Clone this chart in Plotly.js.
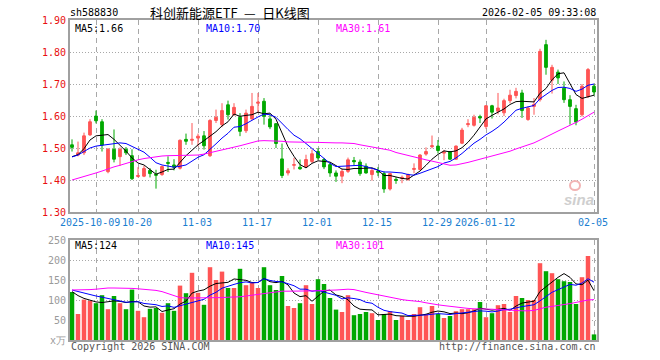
<!DOCTYPE html>
<html><head><meta charset="utf-8">
<script src="https://cdn.plot.ly/plotly-3.0.1.min.js"></script>
<style>html,body{margin:0;padding:0;background:#fff;}#chart{width:660px;height:360px;}</style>
</head><body><div id="chart"></div>
<script>
const dates = ["2025-09-25","2025-09-26","2025-09-29","2025-09-30","2025-10-09","2025-10-10","2025-10-13","2025-10-14","2025-10-15","2025-10-16",
"2025-10-17","2025-10-20","2025-10-21","2025-10-22","2025-10-23","2025-10-24","2025-10-27","2025-10-28","2025-10-29","2025-10-30",
"2025-10-31","2025-11-03","2025-11-04","2025-11-05","2025-11-06","2025-11-07","2025-11-10","2025-11-11","2025-11-12","2025-11-13",
"2025-11-14","2025-11-17","2025-11-18","2025-11-19","2025-11-20","2025-11-21","2025-11-24","2025-11-25","2025-11-26","2025-11-27",
"2025-11-28","2025-12-01","2025-12-02","2025-12-03","2025-12-04","2025-12-05","2025-12-08","2025-12-09","2025-12-10","2025-12-11",
"2025-12-12","2025-12-15","2025-12-16","2025-12-17","2025-12-18","2025-12-19","2025-12-22","2025-12-23","2025-12-24","2025-12-25",
"2025-12-26","2025-12-29","2025-12-30","2025-12-31","2026-01-05","2026-01-06","2026-01-07","2026-01-08","2026-01-09","2026-01-12",
"2026-01-13","2026-01-14","2026-01-15","2026-01-16","2026-01-19","2026-01-20","2026-01-21","2026-01-22","2026-01-23","2026-01-26",
"2026-01-27","2026-01-28","2026-01-29","2026-01-30","2026-02-02","2026-02-03","2026-02-04","2026-02-05"];

const open = [1.510,1.478,1.485,1.541,1.600,1.582,1.426,1.496,1.473,1.496,
1.476,1.411,1.412,1.430,1.418,1.417,1.455,1.447,1.437,1.527,
1.524,1.531,1.538,1.476,1.586,1.573,1.635,1.604,1.596,1.554,
1.591,1.640,1.646,1.591,1.576,1.466,1.422,1.446,1.440,1.441,
1.458,1.489,1.464,1.448,1.422,1.412,1.427,1.461,1.456,1.443,
1.417,1.428,1.420,1.372,1.402,1.405,1.401,1.433,1.433,1.481,
1.504,1.506,1.484,1.489,1.465,1.515,1.573,1.571,1.598,1.567,
1.632,1.615,1.610,1.648,1.664,1.672,1.589,1.630,1.651,1.823,
1.712,1.737,1.687,1.651,1.623,1.604,1.661,1.693];
const high = [1.527,1.520,1.548,1.590,1.617,1.590,1.500,1.558,1.502,1.503,
1.496,1.440,1.444,1.437,1.432,1.445,1.474,1.465,1.527,1.545,
1.578,1.545,1.553,1.590,1.620,1.640,1.648,1.640,1.609,1.620,
1.672,1.672,1.656,1.604,1.578,1.514,1.437,1.469,1.464,1.479,
1.495,1.500,1.469,1.453,1.430,1.435,1.470,1.472,1.464,1.452,
1.437,1.440,1.427,1.422,1.409,1.414,1.420,1.452,1.481,1.502,
1.539,1.525,1.494,1.490,1.508,1.563,1.590,1.604,1.604,1.634,
1.635,1.672,1.654,1.682,1.688,1.682,1.630,1.656,1.810,1.838,
1.760,1.745,1.708,1.665,1.635,1.700,1.750,1.700];
const low = [1.489,1.474,1.478,1.538,1.577,1.489,1.421,1.455,1.444,1.478,
1.400,1.408,1.409,1.408,1.373,1.413,1.425,1.430,1.433,1.510,
1.510,1.505,1.495,1.472,1.578,1.565,1.589,1.600,1.537,1.547,
1.588,1.609,1.573,1.559,1.500,1.406,1.414,1.433,1.432,1.437,
1.453,1.463,1.434,1.410,1.394,1.390,1.422,1.446,1.413,1.420,
1.398,1.412,1.360,1.367,1.388,1.390,1.398,1.421,1.430,1.476,
1.499,1.483,1.462,1.463,1.463,1.512,1.565,1.567,1.578,1.560,
1.592,1.605,1.600,1.640,1.655,1.594,1.585,1.604,1.645,1.729,
1.670,1.700,1.641,1.573,1.571,1.598,1.656,1.664];
const close = [1.502,1.485,1.538,1.582,1.585,1.509,1.496,1.465,1.496,1.485,
1.404,1.414,1.436,1.420,1.415,1.442,1.452,1.440,1.524,1.521,
1.527,1.537,1.507,1.586,1.596,1.617,1.604,1.627,1.552,1.609,
1.630,1.643,1.599,1.566,1.514,1.414,1.429,1.448,1.435,1.464,
1.482,1.469,1.441,1.422,1.412,1.427,1.463,1.457,1.420,1.422,
1.430,1.424,1.372,1.420,1.399,1.408,1.417,1.436,1.478,1.489,
1.507,1.492,1.487,1.465,1.506,1.556,1.576,1.596,1.594,1.632,
1.612,1.625,1.648,1.665,1.677,1.617,1.625,1.636,1.802,1.752,
1.752,1.719,1.651,1.630,1.581,1.693,1.745,1.675];

const ma5 = [1.473,1.479,1.498,1.525,1.538,1.540,1.542,1.527,1.510,1.490,
1.469,1.453,1.447,1.432,1.418,1.425,1.433,1.434,1.455,1.476,
1.493,1.510,1.523,1.536,1.551,1.569,1.582,1.606,1.599,1.602,
1.604,1.612,1.607,1.609,1.590,1.547,1.504,1.474,1.448,1.438,
1.452,1.460,1.458,1.456,1.445,1.434,1.433,1.436,1.436,1.438,
1.438,1.431,1.414,1.414,1.409,1.405,1.403,1.416,1.428,1.446,
1.465,1.480,1.491,1.488,1.491,1.501,1.518,1.540,1.566,1.591,
1.602,1.612,1.622,1.636,1.645,1.646,1.646,1.644,1.671,1.686,
1.713,1.732,1.735,1.701,1.667,1.655,1.660,1.665];
const ma10 = [1.472,1.478,1.489,1.500,1.506,1.509,1.511,1.514,1.516,
1.514,1.505,1.497,1.487,1.471,1.454,1.447,1.443,1.440,1.443,
1.447,1.459,1.471,1.479,1.495,1.513,1.531,1.546,1.565,1.567,
1.576,1.587,1.597,1.606,1.604,1.596,1.576,1.558,1.540,1.529,
1.514,1.499,1.482,1.466,1.452,1.442,1.443,1.446,1.447,1.446,
1.442,1.436,1.432,1.425,1.425,1.423,1.422,1.417,1.415,1.421,
1.427,1.435,1.442,1.453,1.458,1.469,1.483,1.499,1.515,1.527,
1.541,1.552,1.565,1.581,1.601,1.618,1.624,1.629,1.633,1.654,
1.666,1.680,1.689,1.690,1.686,1.677,1.684,1.696,1.700];
const ma30 = [1.400,1.405,1.410,1.416,1.422,1.428,1.435,1.441,1.446,1.452,
1.458,1.463,1.467,1.470,1.472,1.475,1.476,1.476,1.476,1.476,
1.477,1.478,1.481,1.485,1.489,1.493,1.497,1.502,1.507,1.512,
1.518,1.522,1.523,1.523,1.523,1.521,1.519,1.518,1.518,1.518,
1.518,1.517,1.517,1.516,1.516,1.516,1.515,1.514,1.510,1.507,
1.504,1.501,1.497,1.493,1.486,1.481,1.477,1.473,1.468,1.463,
1.459,1.455,1.450,1.446,1.447,1.450,1.455,1.460,1.465,1.470,
1.474,1.479,1.484,1.490,1.497,1.503,1.509,1.516,1.525,1.535,
1.545,1.553,1.562,1.570,1.580,1.590,1.601,1.612];

const volume = [120,65,101,98,92,112,77,110,92,77,
126,73,57,78,80,68,92,73,136,117,
168,118,88,182,150,171,130,130,178,137,
143,130,182,137,125,160,85,80,92,137,
90,152,140,105,76,70,112,62,65,70,
67,50,65,72,50,60,50,65,82,65,
85,65,55,60,72,77,77,77,95,57,
67,87,90,70,110,105,100,100,192,172,
167,152,147,145,90,157,210,14];
const vma5 = [121,111,104,99,95.2,93.6,96,97.8,96.6,93.6,
96.4,95.6,85,82.2,82.8,71.2,75,78.2,89.8,97.2,
117.2,122.4,125.4,134.6,141.2,141.8,144.2,152.6,151.8,149.2,
143.6,143.6,154,145.8,143.4,146.8,137.8,117.4,108.4,110.8,
96.8,110.2,122.2,124.8,112.6,108.6,100.6,85,77,75.8,
75.2,62.8,63.4,64.8,60.8,59.4,59.4,59.4,61.4,64.4,
69.4,72.4,70.4,66,67.4,65.8,68.2,72.6,79.6,76.6,
74.6,76.6,79.2,74.2,84.8,92.4,95,97,121.4,133.8,
146.2,156.6,166,156.6,140.2,138.2,149.8,123.2];
const vma10 = [125,121,117,113,110,107,104,101,98,
94.4,95,95.8,91.4,89.4,88.2,83.8,85.3,81.6,86,
90,94.2,98.7,101.8,112.2,119.2,129.5,133.3,139,143.2,
145.2,142.7,143.9,153.3,148.8,146.3,145.2,140.7,135.7,127.1,
127.1,121.8,124,119.8,116.6,111.7,102.7,105.4,103.6,100.9,
94.2,91.9,81.7,74.2,70.9,68.3,67.3,61.1,61.4,63.1,
62.6,64.4,65.9,64.9,63.7,65.9,67.6,70.3,71.5,72.8,
72,70.2,72.4,75.9,76.9,80.7,83.5,85.8,88.1,97.8,
109.3,119.3,125.8,131.5,139,137,142.2,153.2,144.6];
const vma30 = [125,125,125,126,127,129,130,130,130,130,
129,128,127,126,124,121,116,110,106,105,
105,105,105,105,106,106,107,107,108,110,
112,114,117,119,121,122,122,122,122,122,
123,123,124,124,125,126,127,126,122,119,
116,113,110,106,103,101,99,98,96,93,
90,88,86,84,82,80,79,78,78,77,
77,76,75,74,73,73,73,74,78,82,
84,86,88,91,94,97,100,101];

const tickDates = ["2025-10-09","2025-10-20","2025-11-03","2025-11-17","2025-12-01","2025-12-15","2025-12-29","2026-01-12","2026-02-05"];
const tickLabels = ["2025-10-09","10-20","11-03","11-17","12-01","12-15","12-29","2026-01-12","02-05"];
const priceTicks = [1.30,1.40,1.50,1.60,1.70,1.80,1.90];
const volTicks = [0,50,100,150,200,250];
const volTickLabels = ["x万","50","100","150","200","250"];

const UP = '#ff5555', DOWN = '#00a800';
const MONO = 'DejaVu Sans Mono, Liberation Mono, monospace';
const volColors = close.map((c,i)=> c >= open[i] ? UP : DOWN);

const traces = [
  {type:'candlestick', x:dates, open:open, high:high, low:low, close:close, xaxis:'x', yaxis:'y',
   increasing:{line:{color:UP,width:1}, fillcolor:UP},
   decreasing:{line:{color:DOWN,width:1}, fillcolor:DOWN},
   whiskerwidth:0, hoverinfo:'skip'},
  {type:'scatter', mode:'lines', x:dates, y:ma5, xaxis:'x', yaxis:'y', line:{color:'#000000', width:1}, hoverinfo:'skip'},
  {type:'scatter', mode:'lines', x:dates, y:ma10, xaxis:'x', yaxis:'y', line:{color:'#0000ff', width:1}, hoverinfo:'skip'},
  {type:'scatter', mode:'lines', x:dates, y:ma30, xaxis:'x', yaxis:'y', line:{color:'#ff00ff', width:1}, hoverinfo:'skip'},
  {type:'bar', x:dates, y:volume, xaxis:'x2', yaxis:'y2', marker:{color:volColors, line:{width:0}}, hoverinfo:'skip'},
  {type:'scatter', mode:'lines', x:dates, y:vma5, xaxis:'x2', yaxis:'y2', line:{color:'#000000', width:1}, hoverinfo:'skip'},
  {type:'scatter', mode:'lines', x:dates, y:vma10, xaxis:'x2', yaxis:'y2', line:{color:'#0000ff', width:1}, hoverinfo:'skip'},
  {type:'scatter', mode:'lines', x:dates, y:vma30, xaxis:'x2', yaxis:'y2', line:{color:'#ff00ff', width:1}, hoverinfo:'skip'}
];

const L = 70, R = 597, T = 20, B = 340;
const xp = px => (px - L) / (R - L);
const yp = py => (B - py) / (B - T);
function ann(text, px, py, anchor, color, size, family){
  return {text:text, x:xp(px), y:yp(py), xref:'paper', yref:'paper', xanchor:anchor, yanchor:'middle',
          showarrow:false, font:{family:family||MONO, size:size||10, color:color||'#000'}, borderpad:0};
}

// date labels under the price panel, centred on the dashed grid lines;
// the first one is right-aligned so that it just meets "10-20", as in the original
const dateAnns = tickDates.map((d,k)=>({
  text:tickLabels[k], x:d, xref:'x', y:yp(222), yref:'paper',
  xanchor: k===0 ? 'right' : 'center', xshift: k===0 ? 25 : -1,
  yanchor:'middle', showarrow:false, borderpad:0,
  font:{family:MONO, size:10, color:'#1a7ed0'}
}));

const gridX = {showgrid:true, gridcolor:'#a8a8a8', gridwidth:1, griddash:'5px,4px'};
const gridY = {showgrid:true, gridcolor:'#a8a8a8', gridwidth:1, griddash:'1px,2px'};
const frame = {showline:true, linecolor:'#a0a0a0', linewidth:2, mirror:true, zeroline:false, ticks:'', fixedrange:true};
const xrange = [-0.333, 87.5];

const layout = {
  width:660, height:360,
  margin:{l:L, r:660-R, t:T, b:360-B, pad:0},
  paper_bgcolor:'#ffffff', plot_bgcolor:'#ffffff',
  showlegend:false, bargap:0.25, boxgap:0.35,
  xaxis:Object.assign({type:'category', domain:[0,1], anchor:'y', range:xrange,
    tickmode:'array', tickvals:tickDates, showticklabels:false, rangeslider:{visible:false}}, gridX, frame),
  yaxis:Object.assign({domain:[0.4,1], anchor:'x', range:[1.30,1.90], tickmode:'array', tickvals:priceTicks,
    ticktext:priceTicks.map(v=>v.toFixed(2)), tickfont:{family:MONO, size:10, color:'#e81010'}}, gridY, frame),
  xaxis2:Object.assign({type:'category', domain:[0,1], anchor:'y2', range:xrange,
    tickmode:'array', tickvals:tickDates, showticklabels:false}, gridX, frame),
  yaxis2:Object.assign({domain:[0,0.3125], anchor:'x2', range:[0,250], tickmode:'array', tickvals:volTicks,
    ticktext:volTickLabels, tickfont:{family:MONO, size:10, color:'#9a9a9a'}}, gridY, frame),
  shapes:[
    {type:'circle', xref:'paper', yref:'paper', x0:xp(570), x1:xp(580), y0:yp(190), y1:yp(181),
     line:{color:'#f2b4b4', width:2}, fillcolor:'rgba(0,0,0,0)'}
  ],
  annotations:[
    ann('sh588830', 69, 13, 'left', '#000', 10),
    ann('科创新能源ETF\u2002—\u2002日K线图', 229.5, 13, 'center', '#000', 13, 'Noto Sans CJK SC'),
    ann('2026-02-05 09:33:08', 597, 13, 'right', '#000', 10),
    ann('MA5:1.66', 74, 28, 'left', '#000000', 10),
    ann('MA10:1.70', 205, 28, 'left', '#0000ff', 10),
    ann('MA30:1.61', 335, 28, 'left', '#ff00ff', 10),
    ann('MA5:124', 74, 245, 'left', '#000000', 10),
    ann('MA10:145', 205, 245, 'left', '#0000ff', 10),
    ann('MA30:101', 335, 245, 'left', '#ff00ff', 10),
    ann('Copyright 2026 SINA.COM', 70, 346, 'left', '#555555', 10),
    ann('http://finance.sina.com.cn', 597, 346, 'right', '#555555', 10),
    {text:'<b><i>sina</i></b>', x:xp(579), y:yp(199), xref:'paper', yref:'paper', xanchor:'center', yanchor:'middle',
     showarrow:false, font:{family:'Liberation Sans, Arial', size:15, color:'#cfcfcf'}}
  ].concat(dateAnns)
};

Plotly.newPlot('chart', traces, layout, {staticPlot:true, displayModeBar:false});
</script>
</body></html>
